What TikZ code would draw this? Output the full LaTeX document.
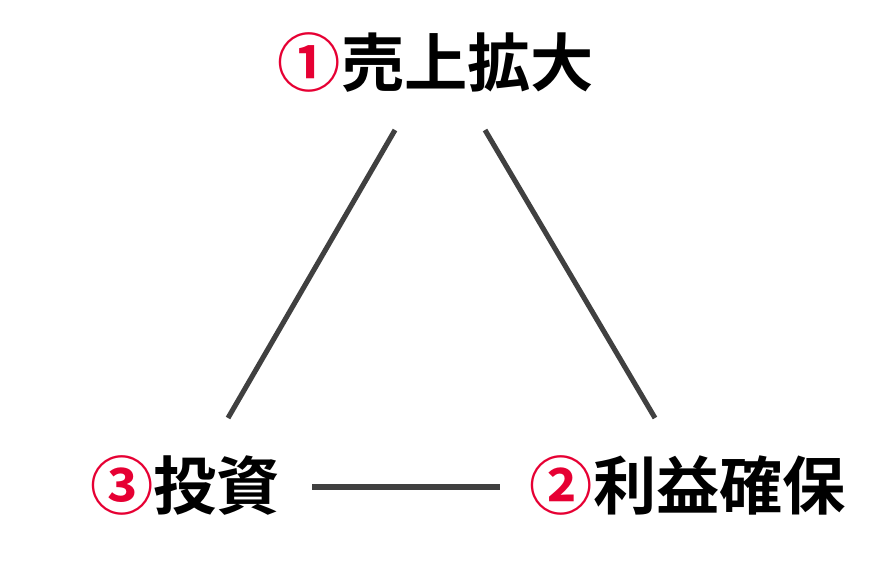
\documentclass[tikz,border=0pt]{standalone}
\usepackage{fontspec}
\newfontfamily\cjk{Noto Sans CJK JP Bold}
\definecolor{numred}{HTML}{E60033}
\definecolor{linegray}{HTML}{404040}

\begin{document}
\begin{tikzpicture}[x=0.02cm, y=-0.02cm]
\tikzset{goal/.style={font=\cjk\fontsize{36}{42}\selectfont, inner sep=0pt},
  edge/.style={line width=2.9pt, linegray}}
\useasboundingbox (0,0) rectangle (888,562);

\node[goal] (sales) at (436,62) {\textcolor{numred}{①}売上拡大};
\node[goal] (invest) at (185,485) {\textcolor{numred}{③}投資};
\node[goal] (profit) at (688,485) {\textcolor{numred}{②}利益確保};

\coordinate (s1) at (395,130);
\coordinate (s2) at (485,130);
\coordinate (i1) at (228,418);
\coordinate (i2) at (312,487);
\coordinate (p1) at (655,418);
\coordinate (p2) at (500,487);

\draw[edge] (s1) -- (i1);
\draw[edge] (s2) -- (p1);
\draw[edge] (i2) -- (p2);
\end{tikzpicture}
\end{document}
